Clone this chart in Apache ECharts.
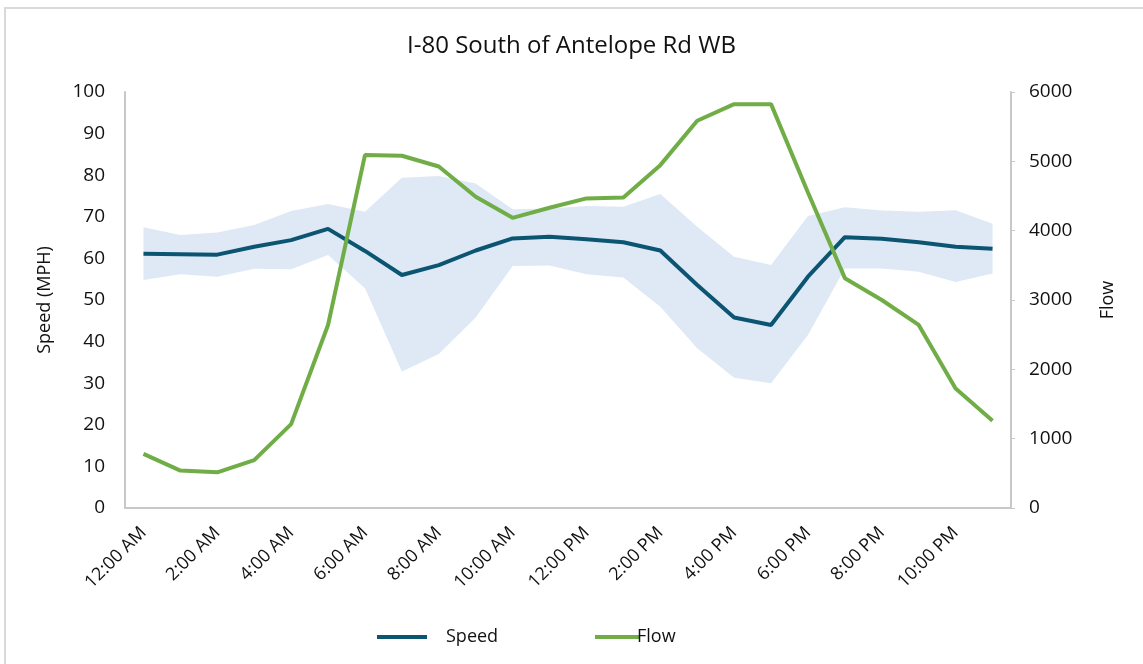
<!DOCTYPE html>
<html>
<head>
<meta charset="utf-8">
<script src="https://cdn.jsdelivr.net/npm/echarts@6/dist/echarts.min.js"></script>
<style>
  html, body { margin: 0; padding: 0; background: #fff; }
  #frame { position: absolute; left: 4px; top: 7px; width: 1200px; height: 700px; border-left: 2px solid #d9d9d9; border-top: 2px solid #d9d9d9; }
  #chart { position: absolute; left: 0; top: 0; width: 1143px; height: 664px; }
</style>
</head>
<body>
<div id="frame"></div>
<div id="chart"></div>
<script>
var hours = ['12:00 AM', '1:00 AM', '2:00 AM', '3:00 AM', '4:00 AM', '5:00 AM', '6:00 AM', '7:00 AM',
  '8:00 AM', '9:00 AM', '10:00 AM', '11:00 AM', '12:00 PM', '1:00 PM', '2:00 PM', '3:00 PM',
  '4:00 PM', '5:00 PM', '6:00 PM', '7:00 PM', '8:00 PM', '9:00 PM', '10:00 PM', '11:00 PM']

var speed = [61.1, 61.0, 60.9, 62.8, 64.4, 67.1, 61.8, 56.0, 58.4, 61.9, 64.8, 65.2,
  64.6, 63.9, 61.9, 53.6, 45.8, 44.0, 55.6, 65.1, 64.7, 63.9, 62.8, 62.3]

var flow = [780, 540, 515, 690, 1210, 2640, 5090, 5080, 4925, 4490, 4185, 4330,
  4465, 4480, 4945, 5585, 5825, 5825, 4550, 3315, 3000, 2640, 1725, 1260]

// speed range band
var speedHigh = [67.5, 65.6, 66.2, 68.0, 71.4, 73.1, 71.2, 79.4, 79.8, 78.0, 71.8, 72.0,
  72.6, 72.4, 75.5, 67.6, 60.4, 58.4, 70.2, 72.3, 71.5, 71.2, 71.6, 68.3]
var speedLow = [54.8, 56.2, 55.6, 57.5, 57.4, 60.8, 52.8, 32.8, 37.0, 45.8, 58.2, 58.3,
  56.2, 55.4, 48.4, 38.4, 31.3, 30.0, 41.6, 57.6, 57.6, 56.8, 54.3, 56.4]

var speedTicks = [0, 100, 10]
var flowTicks = [0, 6000, 1000]

var bandSpan = speedHigh.map(function (v, i) { return +(v - speedLow[i]).toFixed(1) })

var font = '"Open Sans", sans-serif'
var txt = '#111'
var axisGrey = '#c8c8c8'

var myChart = echarts.init(document.getElementById('chart'))
myChart.setOption({
  animation: false,
  title: {
    text: 'I-80 South of Antelope Rd WB',
    left: 'center',
    top: 29,
    textStyle: { fontFamily: font, fontSize: 24, fontWeight: 'normal', color: txt }
  },
  grid: { left: 125, right: 132, top: 92, bottom: 156 },
  legend: [
    {
      left: 372, top: 623, icon: 'rect', itemWidth: 50, itemHeight: 4,
      data: [{ name: 'Speed', textStyle: { padding: [0, 0, 0, 14] } }],
      textStyle: { fontFamily: font, fontSize: 18, color: txt }
    },
    {
      left: 590, top: 623, icon: 'rect', itemWidth: 45, itemHeight: 4,
      data: [{ name: 'Flow', textStyle: { padding: [0, 0, 0, -8] } }],
      textStyle: { fontFamily: font, fontSize: 18, color: txt }
    }
  ],
  xAxis: {
    type: 'category',
    data: hours,
    boundaryGap: true,
    axisLine: { lineStyle: { color: axisGrey, width: 2 } },
    axisTick: { show: false },
    axisLabel: { interval: 1, rotate: 45, margin: 22, fontFamily: font, fontSize: 18, color: txt }
  },
  yAxis: [
    {
      type: 'value',
      min: speedTicks[0], max: speedTicks[1], interval: speedTicks[2],
      name: 'Speed (MPH)', nameLocation: 'middle', nameGap: 71, nameRotate: 90,
      nameTextStyle: { fontFamily: font, fontSize: 18, color: txt },
      axisLine: { show: true, lineStyle: { color: axisGrey, width: 2 } },
      axisTick: { show: false },
      splitLine: { show: false },
      axisLabel: { margin: 20, fontFamily: font, fontSize: 19, color: txt }
    },
    {
      type: 'value',
      min: flowTicks[0], max: flowTicks[1], interval: flowTicks[2],
      name: 'Flow', nameLocation: 'middle', nameGap: 88, nameRotate: 90,
      nameTextStyle: { fontFamily: font, fontSize: 18, color: txt },
      axisLine: { show: true, lineStyle: { color: axisGrey, width: 2 } },
      axisTick: { show: true, length: 4, lineStyle: { color: axisGrey, width: 1 } },
      splitLine: { show: false },
      axisLabel: { margin: 18, fontFamily: font, fontSize: 19, color: txt, formatter: function (v) { return String(v) } }
    }
  ],
  series: [
    {
      name: 'low', type: 'line', stack: 'band', data: speedLow,
      symbol: 'none', lineStyle: { opacity: 0 }, silent: true
    },
    {
      name: 'range', type: 'line', stack: 'band', data: bandSpan,
      symbol: 'none', lineStyle: { opacity: 0 }, silent: true,
      areaStyle: { color: '#dee9f5', opacity: 1 }
    },
    {
      name: 'Speed', type: 'line', data: speed, yAxisIndex: 0,
      symbol: 'none', color: '#0b5572',
      lineStyle: { width: 4, color: '#0b5572' }
    },
    {
      name: 'Flow', type: 'line', data: flow, yAxisIndex: 1,
      symbol: 'none', color: '#70ad47',
      lineStyle: { width: 4, color: '#70ad47' }
    }
  ]
})
</script>
</body>
</html>
